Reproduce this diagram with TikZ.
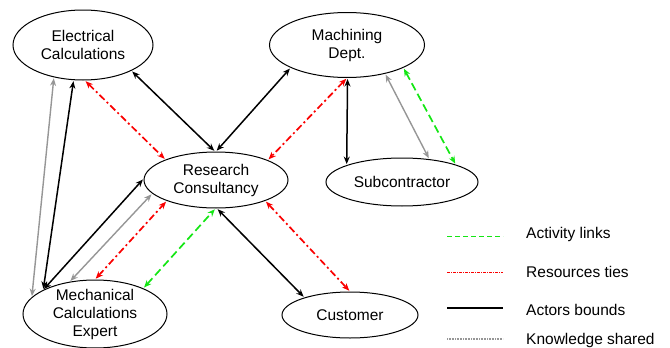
\documentclass[tikz,border=0pt]{standalone}
\usepackage{fontspec}
\setmainfont{Liberation Sans}
\usetikzlibrary{arrows.meta,shapes.geometric}
\definecolor{actgreen}{RGB}{20,230,20}
\definecolor{resred}{RGB}{250,0,0}
\definecolor{knowgray}{RGB}{150,150,150}

\begin{document}
\begin{tikzpicture}[
      x=1pt, y=-1pt,
      actor/.style={draw, ellipse, line width=1pt, inner sep=0pt, align=center,
        font=\fontsize{15.5}{18}\selectfont},
      ends/.style={<->, >={Stealth[length=7.5pt,width=6pt]}, shorten >=1pt, shorten <=1pt},
      activity/.style={draw=actgreen, line width=1.7pt, dash pattern=on 8pt off 4pt},
      resource/.style={draw=resred, line width=1.7pt, dash pattern=on 7pt off 3pt on 2pt off 3pt},
      bound/.style={draw=black, line width=1.5pt},
      knowledge/.style={draw=knowgray, line width=1.4pt},
      legtext/.style={anchor=base west, inner sep=0pt, font=\fontsize{15.5}{18}\selectfont}
    ]
    \useasboundingbox (0,0) rectangle (670,348);
    % Draw the actors.
    \node[actor, minimum width=140pt, minimum height=70pt] (elec) at (83,45) {Electrical\\Calculations};
    \node[actor, minimum width=155pt, minimum height=65pt] (mach) at (347,45) {Machining\\Dept.};
    \node[actor, minimum width=144pt, minimum height=56pt] (res) at (216,180) {Research\\Consultancy};
    \node[actor, minimum width=152pt, minimum height=48pt] (sub) at (402,182) {Subcontractor};
    \node[actor, minimum width=144pt, minimum height=68pt, inner ysep=-3pt] (mech) at (95,314) {Mechanical\\Calculations\\Expert};
    \node[actor, minimum width=136pt, minimum height=46pt] (cust) at (350,315) {Customer};
    % Draw the actors bounds.
    \draw[bound,ends] (elec.-28) -- (res.92);
    \draw[bound,ends] (mach.202) -- (res.90);
    \draw[bound,ends] (mach.-89) -- (sub.163);
    \draw[bound,ends] (mech.155) -- (elec.255);
    \draw[bound,ends] (mech.155) -- (res.179);
    \draw[bound,ends] (res.-88) -- (cust.159);
    % Draw the resources ties.
    \draw[resource,ends] (elec.-87) -- (res.158);
    \draw[resource,ends] (mach.-90) -- (res.21);
    \draw[resource,ends] (mech.90) -- (res.203);
    \draw[resource,ends] (res.-23) -- (cust.90);
    % Draw the activity links.
    \draw[activity,ends] (mach.-22) -- (sub.18);
    \draw[activity,ends] (mech.28) -- (res.-91);
    % Draw the knowledge shared.
    \draw[knowledge,ends] (mach.-37) -- (sub.40);
    \draw[knowledge,ends] (mech.165) -- (elec.228);
    \draw[knowledge,ends] (mech.128) -- (res.192);
    % Draw the legend.
    \node[legtext] (lact) at (526,238) {Activity links};
    \node[legtext] (lres) at (526,277) {Resources ties};
    \node[legtext] (lbnd) at (526,315) {Actors bounds};
    \node[legtext] (lknw) at (526,344) {Knowledge shared};
    \draw[activity, line width=1pt, dash pattern=on 5pt off 3pt] (447,236) -- (503,236);
    \draw[resource, line width=1pt, dash pattern=on 3pt off 1pt on 1pt off 1pt] (447,272) -- (503,272);
    \draw[bound] (447,308) -- (503,308);
    \draw[knowgray, line width=1.6pt, dash pattern=on 1pt off 0.6pt] (447,339) -- (503,339);
\end{tikzpicture}
\end{document}
